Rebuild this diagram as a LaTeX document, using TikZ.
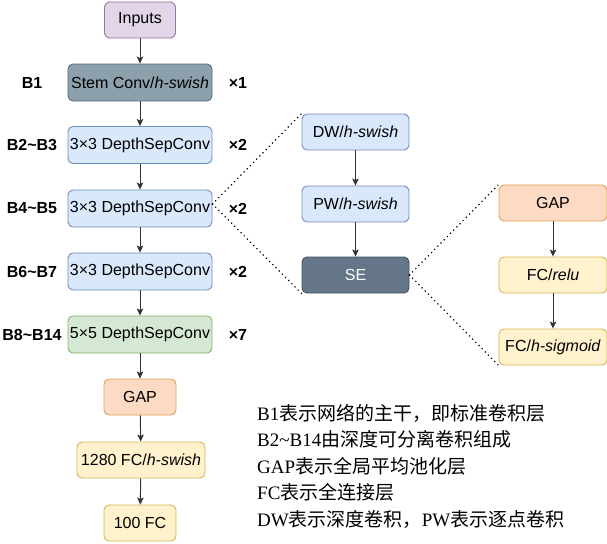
\documentclass[tikz,border=0pt]{standalone}
\usepackage{fontspec}
\setmainfont{Liberation Serif}
\setsansfont{Liberation Sans}
\newfontfamily\cjk{Noto Sans CJK SC}
\usetikzlibrary{arrows.meta}

\definecolor{purpleFill}{HTML}{E1D5E7}
\definecolor{purpleLine}{HTML}{9673A6}
\definecolor{stemFill}{HTML}{8CA1AC}
\definecolor{stemLine}{HTML}{566B78}
\definecolor{blueFill}{HTML}{DAE8FC}
\definecolor{blueLine}{HTML}{6C8EBF}
\definecolor{greenFill}{HTML}{D5E8D4}
\definecolor{greenLine}{HTML}{82B366}
\definecolor{peachFill}{HTML}{FCDAC4}
\definecolor{peachLine}{HTML}{E0A050}
\definecolor{yellowFill}{HTML}{FFF2CC}
\definecolor{yellowLine}{HTML}{D6B656}
\definecolor{seFill}{HTML}{647687}
\definecolor{seLine}{HTML}{3F5060}
\definecolor{arrowGrey}{HTML}{333333}

\tikzset{
  blk/.style={rounded corners=5pt, line width=0.9pt, inner sep=0pt,
    minimum height=36pt, font=\sffamily\fontsize{16}{19}\selectfont},
  wide/.style={blk, minimum width=144pt},
  small/.style={blk, minimum width=72pt},
  mid/.style={blk, minimum width=107pt},
  purpleBox/.style={fill=purpleFill, draw=purpleLine},
  stemBox/.style={fill=stemFill, draw=stemLine},
  blueBox/.style={fill=blueFill, draw=blueLine},
  greenBox/.style={fill=greenFill, draw=greenLine},
  peachBox/.style={fill=peachFill, draw=peachLine},
  yellowBox/.style={fill=yellowFill, draw=yellowLine},
  seBox/.style={fill=seFill, draw=seLine, text=white},
  tag/.style={font=\sffamily\bfseries\fontsize{16}{19}\selectfont, inner sep=0pt},
  flow/.style={draw=arrowGrey, line width=1pt,
    -{Stealth[length=7pt, width=6.5pt, inset=1.5pt]}},
  zoomline/.style={line width=1.7pt, line cap=round,
    dash pattern=on 0pt off 4.5pt},
  note/.style={anchor=base west, inner sep=0pt, font=\fontsize{19}{22}\selectfont}
}

\begin{document}
\begin{tikzpicture}[x=1pt, y=-1pt]
\useasboundingbox (0,0) rectangle (607,543);

% main backbone
\node[small, purpleBox, minimum width=71pt] (in) at (140,20) {Inputs};
\node[wide, stemBox, minimum height=37pt] (stem) at (140,82.5) {Stem Conv/\textit{h-swish}};
\node[wide, blueBox, minimum height=37pt] (b23) at (140,145) {3×3 DepthSepConv};
\node[wide, blueBox, minimum height=37pt] (b45) at (140,208.5) {3×3 DepthSepConv};
\node[wide, blueBox, minimum height=37pt] (b67) at (140,271.5) {3×3 DepthSepConv};
\node[wide, greenBox, minimum height=37pt] (b814) at (140,334.5) {5×5 DepthSepConv};
\node[small, peachBox] (gap) at (140,397) {GAP};
\node[blk, yellowBox, minimum width=128pt] (fc1) at (141,460) {1280 FC/\textit{h-swish}};
\node[small, yellowBox] (fc2) at (140,523) {100 FC};

\foreach \a/\b in {in/stem, stem/b23, b23/b45, b45/b67, b67/b814, b814/gap, gap/fc1, fc1/fc2}
  \draw[flow] (\a) -- (\b);

% block names and repeat counts
\node[tag] (l1) at (32,82.5) {B1};
\node[tag] (l2) at (32,145) {B2\textasciitilde B3};
\node[tag] (l3) at (32,208.5) {B4\textasciitilde B5};
\node[tag] (l4) at (32,271.5) {B6\textasciitilde B7};
\node[tag] (l5) at (32,334.5) {B8\textasciitilde B14};
\node[tag] (r1) at (238,82.5) {×1};
\node[tag] (r2) at (238,145) {×2};
\node[tag] (r3) at (238,208.5) {×2};
\node[tag] (r4) at (238,271.5) {×2};
\node[tag] (r5) at (238,334.5) {×7};

% depthwise separable block
\node[mid, blueBox] (dw) at (355.5,132) {DW/\textit{h-swish}};
\node[mid, blueBox] (pw) at (355.5,204) {PW/\textit{h-swish}};
\node[mid, seBox] (se) at (355.5,275) {SE};
\draw[flow] (dw) -- (pw);
\draw[flow] (pw) -- (se);

% squeeze-and-excitation block
\node[blk, peachBox, minimum width=108pt] (sgap) at (553,203) {GAP};
\node[blk, yellowBox, minimum width=108pt] (relu) at (553,275) {FC/\textit{relu}};
\node[blk, yellowBox, minimum width=108pt] (sig) at (553,347) {FC/\textit{h-sigmoid}};
\draw[flow] (sgap) -- (relu);
\draw[flow] (relu) -- (sig);

% expansion guides
\coordinate (b45e) at (212.5,204);
\draw[zoomline] (b45e) -- (dw.north west);
\draw[zoomline] (b45e) -- (se.south west);
\draw[zoomline] (se.east) -- (sgap.north west);
\draw[zoomline] (se.east) -- (sig.south west);

% legend
\node[note] (n1) at (257,420) {B1{\cjk 表示网络的主干，即标准卷积层}};
\node[note] (n2) at (257,446.5) {B2\textasciitilde B14{\cjk 由深度可分离卷积组成}};
\node[note] (n3) at (257,473) {GAP{\cjk 表示全局平均池化层}};
\node[note] (n4) at (257,499.5) {FC{\cjk 表示全连接层}};
\node[note] (n5) at (257,526) {DW{\cjk 表示深度卷积，}PW{\cjk 表示逐点卷积}};
\end{tikzpicture}
\end{document}
